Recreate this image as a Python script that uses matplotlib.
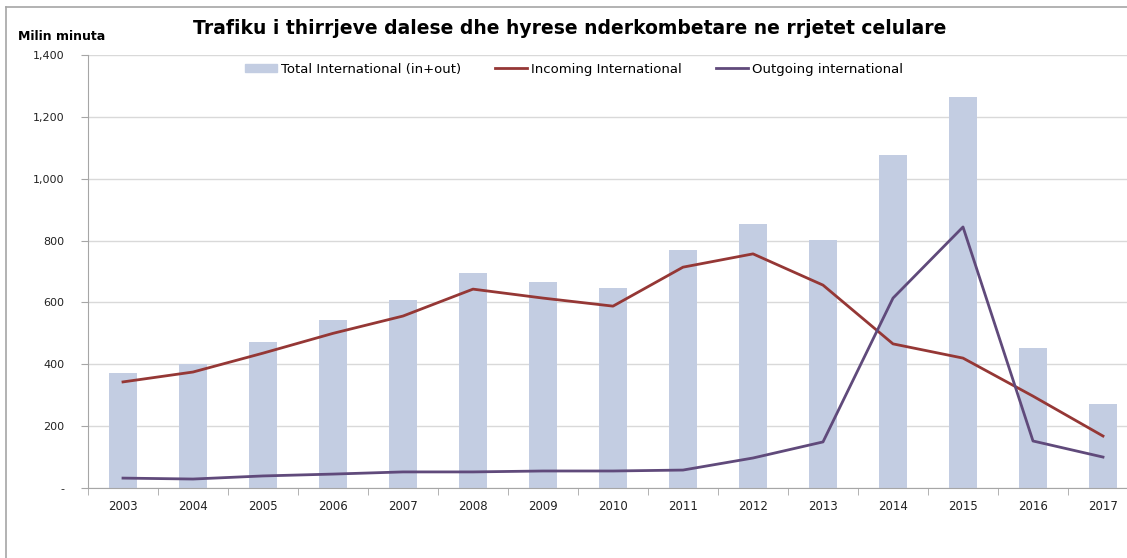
import matplotlib.pyplot as plt
import numpy as np
from matplotlib.patches import Rectangle
from matplotlib.lines import Line2D

years = ["2003", "2004", "2005", "2006", "2007", "2008", "2009", "2010",
         "2011", "2012", "2013", "2014", "2015", "2016", "2017"]
total_intl = [372, 400, 472, 543, 608, 695, 666, 647, 770, 854, 802, 1077, 1264, 453, 272]
incoming_intl = [343, 375, 436, 500, 556, 643, 614, 588, 714, 757, 656, 466, 420, 297, 168]
outgoing_intl = [32, 29, 39, 45, 52, 52, 55, 55, 58, 97, 149, 614, 844, 152, 100]
y_ticks = [0, 200, 400, 600, 800, 1000, 1200, 1400]
y_labels = ["-", "200", "400", "600", "800", "1,000", "1,200", "1,400"]

bar_color = "#C3CDE2"
red = "#953735"
purple = "#604A7B"
grid_color = "#D9D9D9"
axis_color = "#A6A6A6"

fig = plt.figure(figsize=(11.27, 5.58), dpi=100)
ax = fig.add_axes([88 / 1127, 1 - 488 / 558, 1050 / 1127, 433 / 558])

x = np.arange(len(years))
ax.bar(x, total_intl, width=0.4, color=bar_color, zorder=2, label="Total International (in+out)")
ax.plot(x, incoming_intl, color=red, lw=2, zorder=3, label="Incoming International")
ax.plot(x, outgoing_intl, color=purple, lw=2, zorder=3, label="Outgoing international")

ax.set_xlim(-0.5, len(years) - 0.5)
ax.set_ylim(0, 1400)
ax.set_yticks(y_ticks)
ax.set_yticklabels(y_labels, fontsize=8, family="DejaVu Sans", color="#222222")
ax.set_xticks(x)
ax.set_xticklabels(years, fontsize=8.5, family="DejaVu Sans", color="#222222")
ax.tick_params(axis="x", length=0, pad=9)
ax.set_xticks(np.arange(-0.5, len(years), 1), minor=True)
ax.tick_params(axis="x", which="minor", length=5, color=axis_color, direction="out")
ax.tick_params(axis="y", length=5, color=axis_color, pad=12)
ax.grid(axis="y", color=grid_color, lw=1, zorder=0)
ax.set_axisbelow(True)
for side in ["top", "right"]:
    ax.spines[side].set_visible(False)
for side in ["left", "bottom"]:
    ax.spines[side].set_color(axis_color)

fig.text(570 / 1127, 1 - 28 / 558, "Trafiku i thirrjeve dalese dhe hyrese nderkombetare ne rrjetet celulare",
         ha="center", va="center", fontsize=13.5, fontweight="bold", family="DejaVu Sans")
fig.text(18 / 1127, 1 - 37 / 558, "Milin minuta", ha="left", va="center",
         fontsize=9, fontweight="bold", family="DejaVu Sans")

handles = [Rectangle((0, 0), 1, 1, color=bar_color),
           Line2D([], [], color=red, lw=2),
           Line2D([], [], color=purple, lw=2)]
labels = ["Total International (in+out)", "Incoming International", "Outgoing international"]
fig.legend(handles, labels, loc="center", bbox_to_anchor=(574 / 1127, 1 - 69 / 558), ncol=3,
           frameon=False, handlelength=2.4, handleheight=0.5, columnspacing=2.6,
           handletextpad=0.3, prop={"family": "DejaVu Sans", "size": 9.5})

# chart frame (left and top edges visible)
fig.add_artist(Line2D([6 / 1127, 6 / 1127], [0, 1 - 7 / 558], color=axis_color, lw=1.2))
fig.add_artist(Line2D([6 / 1127, 1], [1 - 7 / 558, 1 - 7 / 558], color=axis_color, lw=1.2))

fig.savefig("out.png", dpi=100)
